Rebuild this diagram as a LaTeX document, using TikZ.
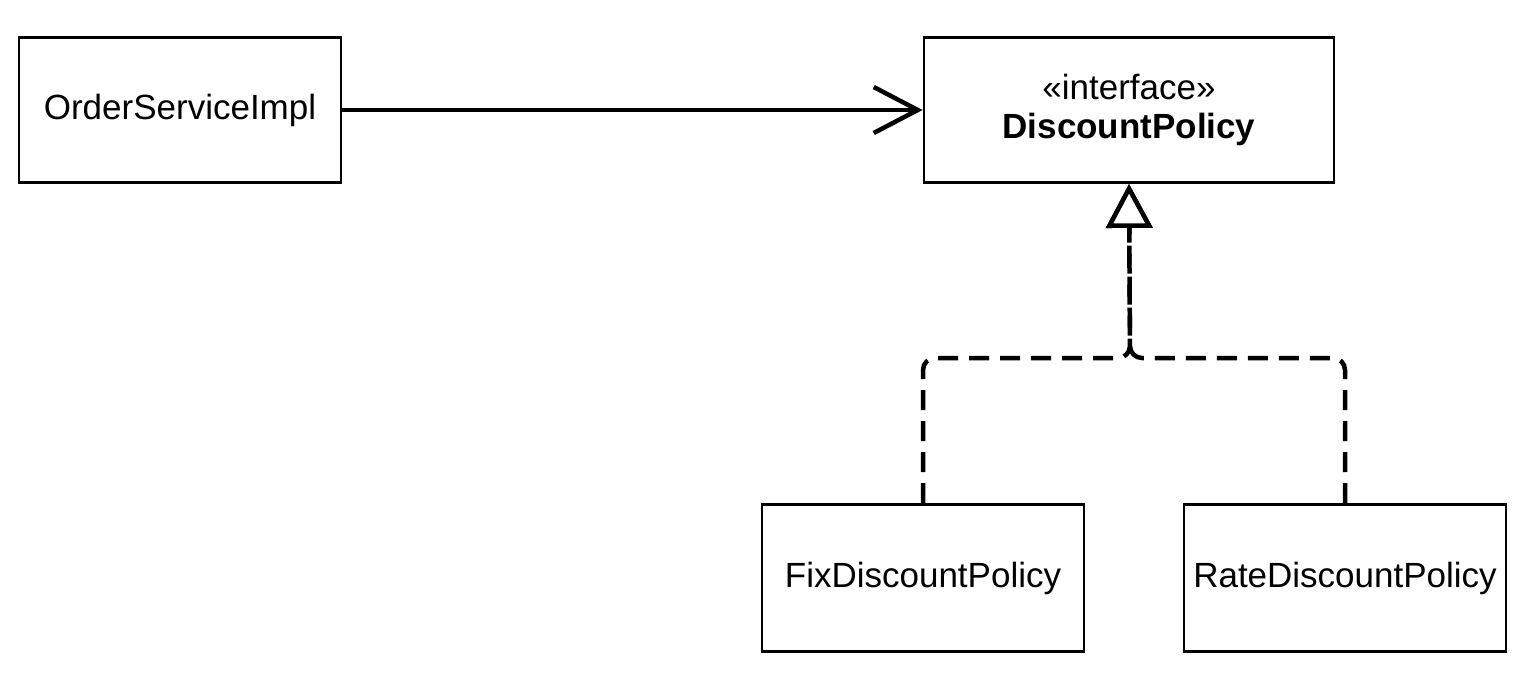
\documentclass[tikz,border=0pt]{standalone}
\usepackage{fontspec}
\setmainfont{Liberation Sans}
\usetikzlibrary{arrows.meta}
\begin{document}
\begin{tikzpicture}[x=1pt,y=-1pt,
  cls/.style={draw, line width=2.8pt, minimum height=145pt, inner sep=0pt,
    align=center, font=\fontsize{35}{39}\selectfont},
  assoc/.style={line width=4.5pt, -{Straight Barb[length=44pt,width=46pt]}},
  realize/.style={line width=4.5pt, dash pattern=on 20pt off 11pt, rounded corners=12pt,
    -{Triangle[open,fill=white,length=44pt,width=46pt]}}]
\useasboundingbox (0,0) rectangle (1530,680);
\node[cls, minimum width=322pt] (osi) at (180,110) {OrderServiceImpl};
\node[cls, minimum width=410pt] (dp) at (1129,110) {\guillemotleft interface\guillemotright\\\textbf{DiscountPolicy}};
\node[cls, minimum width=322pt, minimum height=147pt] (fix) at (923,578) {FixDiscountPolicy};
\node[cls, minimum width=322pt, minimum height=147pt] (rate) at (1345,578) {RateDiscountPolicy};
\coordinate (jn) at (1130,358);
\draw[assoc] (osi.east) -- (dp.west);
\draw[realize] (fix.north) |- (jn) -- (dp.south);
\draw[realize] (rate.north) |- (jn) -- (dp.south);
\end{tikzpicture}
\end{document}
